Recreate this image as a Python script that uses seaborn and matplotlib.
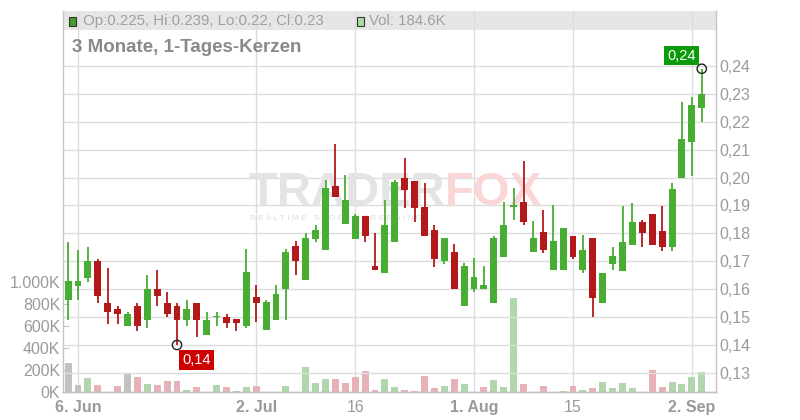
import numpy as np
import pandas as pd
import matplotlib
matplotlib.use("Agg")
import matplotlib.pyplot as plt
import matplotlib.patches as mpatches
from matplotlib.ticker import FixedLocator, FuncFormatter
import seaborn as sns

# --- Daten ---
dates = pd.bdate_range("2024-06-05", "2024-09-03")

opens = [0.156, 0.161, 0.164, 0.170, 0.155, 0.153, 0.1467, 0.154, 0.1488, 0.1601,
         0.1551, 0.154, 0.1488, 0.1551, 0.1435, 0.1499, 0.150, 0.1493, 0.1469, 0.1571,
         0.1455, 0.149, 0.1601, 0.1753, 0.1633, 0.178, 0.174, 0.1971, 0.1833, 0.178,
         0.1861, 0.1682, 0.1658, 0.1769, 0.200, 0.1986, 0.1893, 0.1811, 0.1701, 0.1732,
         0.154, 0.1601, 0.1601, 0.1551, 0.1715, 0.1895, 0.1911, 0.1733, 0.1804, 0.1669,
         0.1669, 0.1791, 0.1667, 0.1784, 0.1549, 0.1692, 0.1664, 0.1757, 0.1842, 0.187,
         0.1809, 0.175, 0.1997, 0.2129, 0.225]
highs = [0.177, 0.174, 0.175, 0.1708, 0.1676, 0.154, 0.152, 0.1551, 0.1651, 0.1669,
         0.159, 0.1551, 0.1562, 0.1551, 0.152, 0.152, 0.151, 0.1493, 0.1743, 0.1614,
         0.1563, 0.1614, 0.1743, 0.1771, 0.1802, 0.1831, 0.1993, 0.2121, 0.2011, 0.1871,
         0.1861, 0.1802, 0.1921, 0.1993, 0.2071, 0.1986, 0.1982, 0.1831, 0.1782, 0.1761,
         0.1693, 0.1711, 0.1683, 0.1792, 0.1911, 0.1961, 0.2061, 0.1843, 0.1882, 0.190,
         0.182, 0.1791, 0.1795, 0.1784, 0.1658, 0.1752, 0.1899, 0.191, 0.1849, 0.187,
         0.1899, 0.1981, 0.2271, 0.2289, 0.239]
lows = [0.149, 0.156, 0.1626, 0.155, 0.1477, 0.1477, 0.1467, 0.1449, 0.146, 0.1538,
        0.1499, 0.140, 0.1467, 0.1427, 0.1435, 0.1467, 0.146, 0.1451, 0.1462, 0.1481,
        0.1455, 0.149, 0.149, 0.1651, 0.1633, 0.1768, 0.174, 0.193, 0.1833, 0.178,
        0.1769, 0.1669, 0.1658, 0.1769, 0.189, 0.184, 0.179, 0.168, 0.169, 0.1601,
        0.154, 0.159, 0.1601, 0.1551, 0.1715, 0.1848, 0.183, 0.1733, 0.173, 0.1669,
        0.1669, 0.1708, 0.1657, 0.1499, 0.1549, 0.1667, 0.1664, 0.1757, 0.175, 0.1757,
        0.1738, 0.1738, 0.1997, 0.2007, 0.220]
closes = [0.163, 0.163, 0.170, 0.1577, 0.1517, 0.151, 0.1512, 0.1467, 0.1601, 0.1577,
          0.151, 0.1488, 0.153, 0.1488, 0.149, 0.1501, 0.148, 0.148, 0.166, 0.1551,
          0.1553, 0.1582, 0.1732, 0.1701, 0.1782, 0.1811, 0.1961, 0.193, 0.1921, 0.1861,
          0.179, 0.1669, 0.1831, 0.1983, 0.1957, 0.189, 0.179, 0.1708, 0.1782, 0.1601,
          0.1682, 0.1643, 0.1615, 0.1782, 0.1831, 0.190, 0.184, 0.1782, 0.174, 0.1771,
          0.182, 0.1717, 0.1741, 0.1567, 0.1658, 0.172, 0.177, 0.1842, 0.180, 0.1757,
          0.175, 0.196, 0.2139, 0.226, 0.230]
# Volumen in Tausend
volumes = [264, 64, 127, 64, 0, 55, 164, 136, 73, 64,
           100, 100, 18, 45, 0, 64, 45, 9, 45, 55,
           0, 0, 55, 0, 227, 82, 118, 118, 82, 136,
           191, 18, 118, 45, 18, 9, 145, 36, 55, 118,
           73, 0, 45, 109, 45, 855, 73, 0, 55, 0,
           9, 55, 18, 36, 91, 36, 82, 36, 0, 200,
           45, 91, 73, 136, 185]
vol_dir = ["flat", "flat", "up", "down", "down", "down", "flat", "down", "up", "down",
           "down", "down", "up", "down", "up", "up", "down", "flat", "up", "down",
           "up", "up", "up", "down", "up", "up", "up", "down", "down", "down",
           "down", "down", "up", "up", "down", "down", "down", "down", "up", "down",
           "up", "up", "down", "up", "up", "up", "down", "up", "down", "up",
           "up", "down", "up", "down", "up", "up", "up", "up", "down", "down",
           "down", "up", "up", "up", "up"]

tick_dates = ["2024-06-06", "2024-07-02", "2024-07-16", "2024-08-01", "2024-08-15", "2024-09-02"]
tick_labels = ["6. Jun", "2. Jul", "16", "1. Aug", "15", "2. Sep"]
tick_bold = [True, True, False, True, False, True]
price_ticks = [0.13, 0.14, 0.15, 0.16, 0.17, 0.18, 0.19, 0.20, 0.21, 0.22, 0.23, 0.24]
vol_ticks = [0, 200, 400, 600, 800, 1000]

header_ohlc = "Op:0.225, Hi:0.239, Lo:0.22, Cl:0.23"
header_vol = "Vol: 184.6K"
title = "3 Monate, 1-Tages-Kerzen"

# --- Stil ---
sns.set_style("white")
plt.rcParams['font.family'] = ['Liberation Sans', 'DejaVu Sans']

GREEN = "#48ae33"
RED = "#b3191a"
GRID = "#dcdcdc"
AXIS = "#c4c4c4"
TXT = "#9a9a9a"

W, H = 800, 420
fig = plt.figure(figsize=(8, 4.2), dpi=100)
ax_v = fig.add_axes([63 / W, 28 / H, 653 / W, 381 / H])
ax_p = ax_v.twinx()

pos = np.arange(len(dates))
df = pd.DataFrame({"pos": pos, "vol": volumes, "dir": vol_dir})

# Volumen (linke Achse)
sns.barplot(data=df, x="pos", y="vol", hue="dir", native_scale=True, dodge=False,
            palette={"up": "#acdca5", "down": "#f0a8b1", "flat": "#c2c2c2"},
            width=0.7, errorbar=None, legend=False, linewidth=0, ax=ax_v)

# Kerzen (rechte Achse)
o = np.array(opens); c = np.array(closes)
colors = [GREEN if cc >= oo else RED for oo, cc in zip(o, c)]
ax_p.vlines(pos, lows, highs, colors=colors, linewidth=1.3, zorder=3)
body_lo = np.minimum(o, c)
body_h = np.maximum(np.abs(c - o), 0.0004)
ax_p.bar(pos, body_h, bottom=body_lo, width=0.7, color=colors, linewidth=0, zorder=4)

# Hoch/Tief Markierungen
hi_i = int(np.argmax(highs)); lo_i = int(np.argmin(lows))
ax_p.scatter([hi_i, lo_i], [highs[hi_i], lows[lo_i]], s=45, facecolors="none",
             edgecolors="#222222", linewidths=1, zorder=6)
ax_p.annotate(f"{highs[hi_i]:.2f}".replace(".", ","), (hi_i, highs[hi_i]),
              xytext=(-14.5, 9.5), textcoords="offset points", ha="center", va="center",
              color="white", fontsize=10.5, zorder=7,
              bbox=dict(boxstyle="square,pad=0.2", fc="#0a9a0a", ec="none"))
ax_p.annotate(f"{lows[lo_i]:.2f}".replace(".", ","), (lo_i, lows[lo_i]),
              xytext=(14, -11), textcoords="offset points", ha="center", va="center",
              color="white", fontsize=10.5, zorder=7,
              bbox=dict(boxstyle="square,pad=0.2", fc="#cc0000", ec="none"))

# Achsen
ax_v.set_xlim(-0.515, 65.44)
ax_v.set_ylim(0, 381 / 110 * 1000)
ax_p.set_ylim(0.12315, 0.2597)

tick_pos = dates.get_indexer(pd.to_datetime(tick_dates))
ax_v.xaxis.set_major_locator(FixedLocator(tick_pos))
ax_v.set_xticklabels(tick_labels)
for lab, b in zip(ax_v.get_xticklabels(), tick_bold):
    lab.set_fontweight("bold" if b else "normal")
ax_v.tick_params(axis="x", length=4, color=AXIS, labelcolor=TXT, labelsize=11.5, pad=2)

ax_v.yaxis.set_major_locator(FixedLocator(vol_ticks))
ax_v.yaxis.set_major_formatter(FuncFormatter(lambda v, _: f"{int(v):,}K".replace(",", ".")))
ax_v.tick_params(axis="y", direction="in", length=4, color=AXIS, labelcolor=TXT,
                 labelsize=11.5, pad=2, left=True)

ax_p.yaxis.set_major_locator(FixedLocator(price_ticks))
ax_p.yaxis.set_major_formatter(FuncFormatter(lambda v, _: f"{v:.2f}".replace(".", ",")))
ax_p.tick_params(axis="y", length=0, labelcolor=TXT, labelsize=11.5, pad=2.5)

ax_v.set_xlabel(""); ax_v.set_ylabel(""); ax_p.set_ylabel("")
ax_v.set_axisbelow(True)
ax_v.grid(axis="x", color=GRID, linewidth=1)
ax_v.grid(axis="y", visible=False)
ax_p.grid(axis="y", color=GRID, linewidth=1)
ax_p.set_axisbelow(True)

for a in (ax_v, ax_p):
    a.spines["top"].set_visible(False)
    for s in ("left", "right", "bottom"):
        a.spines[s].set_color(AXIS)
        a.spines[s].set_linewidth(1)
ax_p.spines["left"].set_visible(False)
ax_v.spines["right"].set_visible(False)

# Kopfzeile
ax_v.add_patch(mpatches.Rectangle((0, 1 - 19 / 381), 1, 19 / 381, transform=ax_v.transAxes,
                                  fc="#e6e6e6", ec="none", zorder=0.2))
fig.add_artist(mpatches.Rectangle((69 / W, 1 - 26 / H), 7 / W, 9 / H, transform=fig.transFigure,
                                  fc="#3f9e2c", ec="#333333", lw=0.8))
fig.add_artist(mpatches.Rectangle((357 / W, 1 - 26 / H), 7 / W, 9 / H, transform=fig.transFigure,
                                  fc="#acdca5", ec="#333333", lw=0.8))
fig.text(83 / W, 1 - 21 / H, header_ohlc, fontsize=10.8, color="#a0a0a0", va="center")
fig.text(369 / W, 1 - 21 / H, header_vol, fontsize=10.8, color="#a0a0a0", va="center")
fig.text(72 / W, 1 - 47 / H, title, fontsize=13.5, color="#8a8a8a", fontweight="bold", va="center")

# Wasserzeichen
ax_p.text(445 / W, 1 - 193 / H, "TRADER", transform=fig.transFigure, ha="right", va="center",
          fontsize=34, fontweight="bold", color="#e4e4e4", zorder=1)
ax_p.text(445 / W, 1 - 193 / H, "FOX", transform=fig.transFigure, ha="left", va="center",
          fontsize=34, fontweight="bold", color="#fbd6d6", zorder=1)
ax_p.text(250 / W, 1 - 218 / H, " ".join("REALTIME STOCKSCREENING"), transform=fig.transFigure,
          ha="left", va="center", fontsize=6, color="#dddddd", zorder=1)

fig.savefig("out.png", dpi=100)
